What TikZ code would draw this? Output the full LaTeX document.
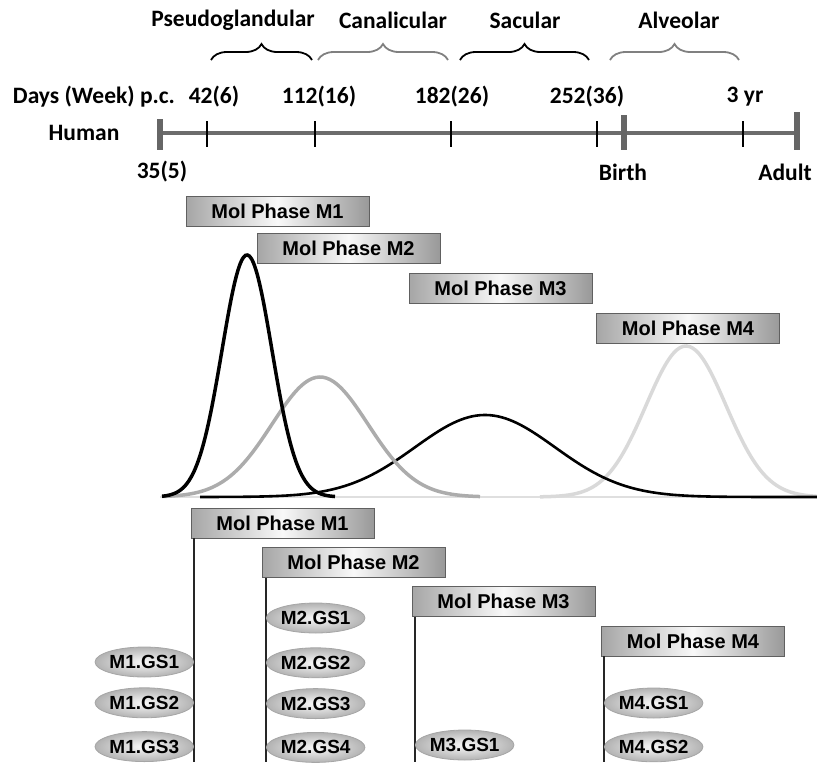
\documentclass[tikz,border=0pt]{standalone}
\usepackage{fontspec}
\setmainfont{Carlito}
\newfontfamily\arialfont{Liberation Sans}
\usepackage{tikz}
\usetikzlibrary{positioning,%
  shapes.geometric,%
  decorations.pathreplacing}

\tikzset{
  lbl/.style={font=\bfseries\fontsize{23.5}{26}\selectfont, inner sep=0pt},
  stagebrace/.style={decorate, decoration={brace, amplitude=16pt}, line width=1.8pt},
  molbox/.style={draw=gray!75!black, line width=0.8pt, left color=gray!70,
    right color=gray!80, middle color=gray!5, minimum width=183pt,
    minimum height=30pt, inner sep=0pt,
    font=\arialfont\bfseries\fontsize{20}{22}\selectfont},
  gs/.style={ellipse, draw=gray!70, line width=0.8pt, inner color=gray!5,
    outer color=gray!60, minimum width=96pt, minimum height=30pt, inner sep=0pt,
    font=\arialfont\bfseries\fontsize{19}{21}\selectfont},
  stem/.style={line width=2.6pt, black!85},
  curve/.style={line width=3.5pt, smooth}
}

\begin{document}
\begin{tikzpicture}[x=1pt,y=-1pt]
            % Rahmen
            \useasboundingbox (0,0) rectangle (817,764);

            % Stadien
            \node[lbl] (pg) at (233,20) {Pseudoglandular};
            \node[lbl] (ca) at (393,20) {Canalicular};
            \node[lbl] (sa) at (525,20) {Sacular};
            \node[lbl] (al) at (679,20) {Alveolar};
            \draw[stagebrace] (211,60) -- (312,60);
            \draw[stagebrace, gray] (318,60) -- (448,60);
            \draw[stagebrace] (460,60) -- (589,60);
            \draw[stagebrace, gray] (610,60) -- (739,60);

            % Zeitachse
            \node[lbl] (days) at (94,97) {Days (Week) p.c.};
            \node[lbl] (human) at (84,133) {Human};
            \coordinate (t0) at (160,133);
            \coordinate (tend) at (797,133);
            \draw[line width=4pt, gray!85!black] (t0) -- (tend);
            \foreach \x in {207, 315, 451, 597, 743}
                \draw[line width=2pt] (\x,121) -- (\x,147);
            \foreach \x/\t in {214/42(6), 319/112(16), 452/182(26), 587/252(36), 745/3 yr}
                \node[lbl] at (\x,97) {\t};
            \draw[line width=6pt, gray!80!black] (160,119) -- (160,150);
            \draw[line width=6pt, gray!80!black] (624,115) -- (624,150);
            \draw[line width=6pt, gray!80!black] (797,112) -- (797,150);
            \node[lbl] (start) at (162,172) {35(5)};
            \node[lbl] (birth) at (623,172) {Birth};
            \node[lbl] (adult) at (785,172) {Adult};

            % Kurven
            \draw[line width=2.5pt, gray!25] (160,497) -- (817,497);
            \draw[curve, gray!30] plot[domain=540:817, samples=90] (\x, {497-151*exp(-0.5*((\x-686)/40)^2)});
            \draw[curve, line width=2.6pt, black] plot[domain=200:817, samples=120] (\x, {497-82*exp(-0.5*((\x-485)/70)^2)});
            \draw[curve, gray!65] plot[domain=162:480, samples=90] (\x, {497-120*exp(-0.5*((\x-320)/48)^2)});
            \draw[curve, black] plot[domain=162:335, samples=90] (\x, {497-242*exp(-0.5*((\x-247)/25)^2)});

            \node[molbox] (p1) at (277.5,211) {Mol Phase M1};
            \node[molbox] (p2) at (348.5,248.5) {Mol Phase M2};
            \node[molbox] (p3) at (500.5,288) {Mol Phase M3};
            \node[molbox] (p4) at (688,328) {Mol Phase M4};

            % Gensets
            \node[molbox] (q1) at (282.5,523) {Mol Phase M1};
            \node[molbox] (q2) at (353.5,562.5) {Mol Phase M2};
            \node[molbox] (q3) at (503.5,601.5) {Mol Phase M3};
            \node[molbox] (q4) at (693,641) {Mol Phase M4};
            \coordinate (e1) at (194,762);
            \coordinate (e2) at (266,762);
            \coordinate (e3) at (415,762);
            \coordinate (e4) at (604,762);
            \draw[stem] (q1.south west -| e1) -- (e1);
            \draw[stem] (q2.south west -| e2) -- (e2);
            \draw[stem] (q3.south west -| e3) -- (e3);
            \draw[stem] (q4.south west -| e4) -- (e4);

            \node[gs, anchor=east] (m1a) at (194,662) {M1.GS1};
            \node[gs, below=10pt of m1a] (m1b) {M1.GS2};
            \node[gs, below=13pt of m1b] (m1c) {M1.GS3};
            \node[gs, anchor=west] (m2a) at (266,618) {M2.GS1};
            \node[gs, below=14pt of m2a] (m2b) {M2.GS2};
            \node[gs, below=10pt of m2b] (m2c) {M2.GS3};
            \node[gs, below=13pt of m2c] (m2d) {M2.GS4};
            \node[gs, anchor=west] (m3a) at (415,745) {M3.GS1};
            \node[gs, anchor=west] (m4a) at (604,703) {M4.GS1};
            \node[gs, below=13pt of m4a] (m4b) {M4.GS2};
        \end{tikzpicture}
\end{document}
